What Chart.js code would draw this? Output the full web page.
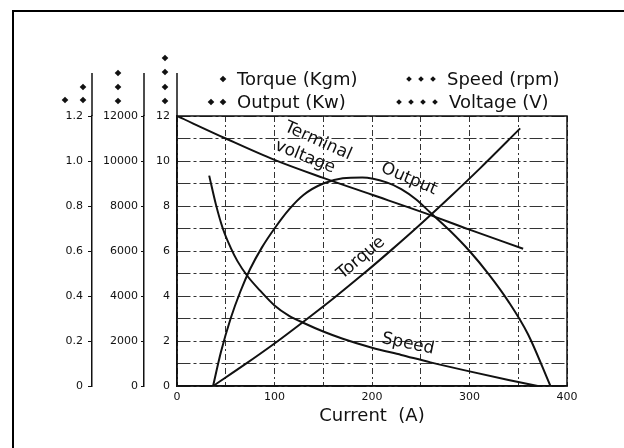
<!DOCTYPE html>
<html>
<head>
<meta charset="utf-8">
<script src="https://cdn.jsdelivr.net/npm/chart.js@4"></script>
<style>
  html, body { margin: 0; padding: 0; background: #fff; overflow: hidden; }
  #wrap { position: relative; width: 624px; height: 448px; overflow: hidden; }
  #frame { position: absolute; left: 12px; top: 10px; width: 660px; height: 480px;
           border-top: 2.5px solid #000; border-left: 2.5px solid #000; }
  canvas { position: absolute; left: 0; top: 0; }
</style>
</head>
<body>
<div id="wrap">
  <div id="frame"></div>
  <canvas id="chart" width="624" height="448"></canvas>
</div>
<script>
// Starter motor characteristics versus armature current
const currentLabels = ['0', '100', '200', '300', '400'];
const voltLabels = ['0', '2', '4', '6', '8', '10', '12'];
const rpmLabels = ['0', '2000', '4000', '6000', '8000', '10000', '12000'];
const kwLabels = ['0', '0.2', '0.4', '0.6', '0.8', '1.0', '1.2'];

// Torque (Kgm)
const torqueA   = [37, 70, 100, 130, 160, 190, 220, 250, 280, 310, 352];
const torqueKgm = [0, 0.097, 0.189, 0.287, 0.388, 0.494, 0.605, 0.720, 0.840, 0.964, 1.145];

// Output (Kw)
const outputA  = [37, 45, 55, 65, 75, 87, 100, 115, 130, 150, 170, 190, 215, 230, 245, 260, 280, 300, 320, 340, 360, 383];
const outputKw = [0, 0.15, 0.30, 0.42, 0.52, 0.615, 0.70, 0.785, 0.85, 0.90, 0.923, 0.927, 0.905, 0.875, 0.83, 0.77, 0.69, 0.60, 0.495, 0.375, 0.23, 0];

// Speed (rpm)
const speedA   = [33, 40, 47, 55, 62, 72, 85, 100, 115, 130, 150, 170, 200, 230, 260, 300, 340, 370];
const speedRpm = [9350, 8050, 7000, 6150, 5550, 4900, 4250, 3580, 3120, 2800, 2420, 2100, 1700, 1380, 1050, 650, 270, 0];

// Terminal voltage (V)
const voltageA = [0, 50, 100, 150, 200, 250, 300, 355];
const voltageV = [12, 11.0, 10.05, 9.25, 8.5, 7.75, 6.95, 6.1];

const pts = (xs, ys) => xs.map((x, i) => ({ x: x, y: ys[i] }));

const FONT = 'DejaVu Sans';
const INK = '#111';

function lineSet(label, xs, ys, axis) {
  return {
    label: label,
    data: pts(xs, ys),
    yAxisID: axis,
    borderColor: INK,
    borderWidth: 2,
    pointRadius: 0,
    fill: false,
    cubicInterpolationMode: 'monotone'
  };
}

function marker(ctx, x, y, r) {
  ctx.beginPath();
  ctx.moveTo(x, y - r);
  ctx.lineTo(x + r, y);
  ctx.lineTo(x, y + r);
  ctx.lineTo(x - r, y);
  ctx.closePath();
  ctx.fill();
}

const decor = {
  id: 'decor',
  afterDraw(chart) {
    const ctx = chart.ctx;
    const a = chart.chartArea;
    const s = chart.scales;
    ctx.save();
    ctx.strokeStyle = INK;
    ctx.fillStyle = INK;

    // plot frame
    ctx.lineWidth = 1.5;
    ctx.strokeRect(a.left, a.top, a.right - a.left, a.bottom - a.top);

    // axis lines run up past the top of the plot
    const axisTop = a.top - 43;
    [s.yKw.right, s.yRpm.right, a.left].forEach(x => {
      ctx.lineWidth = 1.5;
      ctx.beginPath();
      ctx.moveTo(x, a.top);
      ctx.lineTo(x, axisTop);
      ctx.stroke();
    });

    // axis identification marks
    const mk = [
      [s.yKw.right - 9, a.top - 29], [s.yKw.right - 27, a.top - 16], [s.yKw.right - 9, a.top - 16],
      [s.yRpm.right - 26, a.top - 43], [s.yRpm.right - 26, a.top - 29], [s.yRpm.right - 26, a.top - 15],
      [a.left - 12, a.top - 58], [a.left - 12, a.top - 44], [a.left - 12, a.top - 29], [a.left - 12, a.top - 15]
    ];
    mk.forEach(([x, y]) => marker(ctx, x, y, 3.3));

    // legend
    ctx.font = '18px "' + FONT + '"';
    ctx.textAlign = 'left';
    ctx.textBaseline = 'alphabetic';
    const rows = [
      { text: 'Torque (Kgm)', x: 237, y: 85, marks: 1, r: 3.3 },
      { text: 'Output (Kw)',  x: 237, y: 108, marks: 2, r: 3.3 },
      { text: 'Speed (rpm)',  x: 447, y: 85, marks: 3, r: 2.8 },
      { text: 'Voltage (V)',  x: 449, y: 108, marks: 4, r: 2.8 }
    ];
    rows.forEach(row => {
      ctx.fillText(row.text, row.x, row.y);
      for (let k = 0; k < row.marks; k++) {
        marker(ctx, row.x - 14 - 12 * k, row.y - 6, row.r);
      }
    });

    // curve names
    ctx.font = '17px "' + FONT + '"';
    ctx.textAlign = 'center';
    ctx.textBaseline = 'middle';
    const names = [
      { text: 'Terminal', x: 318, y: 141, deg: 24 },
      { text: 'voltage',  x: 305, y: 157, deg: 22 },
      { text: 'Output',   x: 409, y: 179, deg: 23 },
      { text: 'Torque',   x: 361, y: 258, deg: -40 },
      { text: 'Speed',    x: 408, y: 344, deg: 12 }
    ];
    names.forEach(n => {
      ctx.save();
      ctx.translate(n.x, n.y);
      ctx.rotate(n.deg * Math.PI / 180);
      ctx.fillText(n.text, 0, 0);
      ctx.restore();
    });
    ctx.restore();
  }
};

const tickFont = { family: FONT, size: 11 };

new Chart(document.getElementById('chart'), {
  type: 'line',
  data: {
    datasets: [
      lineSet('Terminal voltage (V)', voltageA, voltageV, 'y'),
      lineSet('Output (Kw)', outputA, outputKw, 'yKw'),
      lineSet('Torque (Kgm)', torqueA, torqueKgm, 'yKw'),
      lineSet('Speed (rpm)', speedA, speedRpm, 'yRpm')
    ]
  },
  options: {
    responsive: false,
    animation: false,
    devicePixelRatio: 1,
    layout: { padding: { left: 40, right: 57, top: 116, bottom: 21 } },
    plugins: { legend: { display: false }, tooltip: { enabled: false } },
    scales: {
      x: {
        type: 'linear',
        min: 0, max: 400,
        ticks: {
          stepSize: 50,
          autoSkip: false,
          maxRotation: 0,
          padding: 5,
          color: INK,
          font: tickFont,
          callback: (v, i) => (i % 2 === 0 ? currentLabels[i / 2] : '')
        },
        grid: { color: '#333', lineWidth: 1, drawTicks: false },
        border: { display: true, color: INK, width: 1.5, dash: [6, 3, 2, 3] },
        title: {
          display: true,
          text: 'Current  (A)',
          color: INK,
          font: { family: FONT, size: 18 },
          padding: { top: 0, bottom: 0 }
        },
        afterFit: sc => { sc.height = 41; }
      },
      y: {
        position: 'left',
        weight: 1,
        min: 0, max: 12,
        ticks: {
          stepSize: 1,
          padding: 7,
          color: INK,
          font: tickFont,
          callback: (v, i) => (i % 2 === 0 ? voltLabels[i / 2] : '')
        },
        grid: { color: '#333', lineWidth: 1, drawTicks: false },
        border: { display: true, color: INK, width: 1.5, dash: [13, 3, 3, 3] },
        afterFit: sc => { sc.width = 33; }
      },
      yRpm: {
        position: 'left',
        weight: 2,
        min: 0, max: 12000,
        ticks: {
          stepSize: 2000,
          padding: 3,
          color: INK,
          font: tickFont,
          callback: (v, i) => rpmLabels[i]
        },
        grid: { drawOnChartArea: false, drawTicks: true, tickLength: 3, color: INK },
        border: { display: true, color: INK, width: 1.5 },
        afterFit: sc => { sc.width = 52; }
      },
      yKw: {
        position: 'left',
        weight: 3,
        min: 0, max: 1.2,
        ticks: {
          stepSize: 0.2,
          padding: 5,
          color: INK,
          font: tickFont,
          callback: (v, i) => kwLabels[i]
        },
        grid: { drawOnChartArea: false, drawTicks: true, tickLength: 4, color: INK },
        border: { display: true, color: INK, width: 1.5 },
        afterFit: sc => { sc.width = 52; }
      }
    }
  },
  plugins: [decor]
});
</script>
</body>
</html>
